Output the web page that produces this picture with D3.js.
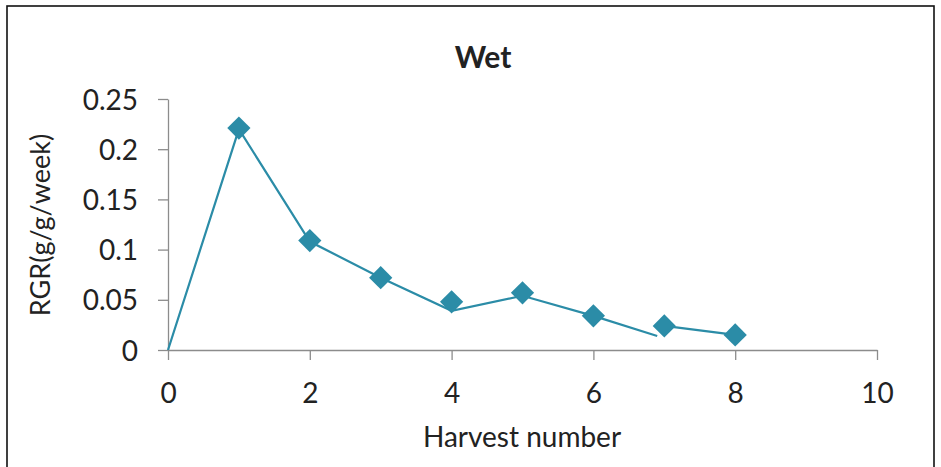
<!DOCTYPE html>
<html>
<head>
<meta charset="utf-8">
<script src="https://cdn.jsdelivr.net/npm/d3@7"></script>
<style>
  body { margin: 0; background: #fff; }
  text { font-family: Lato, "Open Sans", sans-serif; fill: #222; }
</style>
</head>
<body>
<svg id="fig_wet" width="941" height="467"></svg>
<script>

// line series (drawn under the markers)
var line_x = [0, 1, 2, 3, 4, 5, 6, 6.9];
var line_y = [0, 0.22, 0.108, 0.072, 0.039, 0.054, 0.034, 0.014];

// marker series
var mark_x = [1, 2, 3, 4, 5, 6, 7, 8];
var mark_y = [0.221, 0.109, 0.072, 0.048, 0.057, 0.034, 0.024, 0.015];

var x_ticks = [0, 2, 4, 6, 8, 10];
var y_ticks = [0, 0.05, 0.1, 0.15, 0.2, 0.25];
var y_labels = ['0', '0.05', '0.1', '0.15', '0.2', '0.25'];

var title = 'Wet';
var x_title = 'Harvest number';
var y_title = 'RGR(g/g/week)';

var teal = '#2b8ca7';

function draw_wet(){

    var svg = d3.select("#fig_wet");

    // frame
    svg.append("rect")
        .attr("x", 7).attr("y", 6)
        .attr("width", 927).attr("height", 480)
        .attr("fill", "none")
        .attr("stroke", "#111")
        .attr("stroke-width", 1.6);

    var x = d3.scaleLinear().domain([0, 10]).range([168, 877]);
    var y = d3.scaleLinear().domain([0, 0.25]).range([350, 99]);

    var xaxis = svg.append("g")
        .attr("transform", "translate(0,350)")
        .call(d3.axisBottom(x).tickValues(x_ticks).tickSize(10).tickPadding(23).tickSizeOuter(0));

    var yaxis = svg.append("g")
        .attr("transform", "translate(168,0)")
        .call(d3.axisLeft(y).tickValues(y_ticks).tickSize(10).tickPadding(20).tickSizeOuter(0)
              .tickFormat(function(d, i){ return y_labels[i]; }));

    [xaxis, yaxis].forEach(function(g){
        g.select(".domain").attr("stroke", "#8c8c8c").attr("stroke-width", 1.3);
        g.selectAll(".tick line").attr("stroke", "#8c8c8c").attr("stroke-width", 1.3);
        g.selectAll(".tick text")
            .style("font-size", "28px")
            .style("font-family", "Lato, sans-serif")
            .attr("fill", "#222");
    });
    yaxis.selectAll(".tick text").attr("dy", "0.36em");

    var line_pts = line_x.map(function(d, i){ return [d, line_y[i]]; });
    var mark_pts = mark_x.map(function(d, i){ return [d, mark_y[i]]; });

    var lg = d3.line().x(function(d){ return x(d[0]); }).y(function(d){ return y(d[1]); });

    svg.append("path")
        .attr("d", lg(line_pts))
        .attr("fill", "none")
        .attr("stroke", teal)
        .attr("stroke-width", 2.2);

    // short link between the last two markers
    svg.append("path")
        .attr("d", lg(mark_pts.slice(-2)))
        .attr("fill", "none")
        .attr("stroke", teal)
        .attr("stroke-width", 2.2);

    svg.selectAll(".mark")
        .data(mark_pts)
        .enter().append("path")
        .attr("class", "mark")
        .attr("d", d3.symbol().type(d3.symbolSquare).size(270))
        .attr("transform", function(d){ return "translate(" + x(d[0]) + "," + y(d[1]) + ") rotate(45)"; })
        .attr("fill", teal);

    svg.append("text")
        .attr("x", 483).attr("y", 68)
        .attr("text-anchor", "middle")
        .style("font-size", "30px")
        .style("font-weight", "bold")
        .text(title);

    svg.append("text")
        .attr("x", 522).attr("y", 447)
        .attr("text-anchor", "middle")
        .style("font-size", "28px")
        .text(x_title);

    svg.append("text")
        .attr("transform", "translate(50,225) rotate(-90)")
        .attr("text-anchor", "middle")
        .style("font-size", "27px")
        .text(y_title);
}

draw_wet();
</script>
</body>
</html>
